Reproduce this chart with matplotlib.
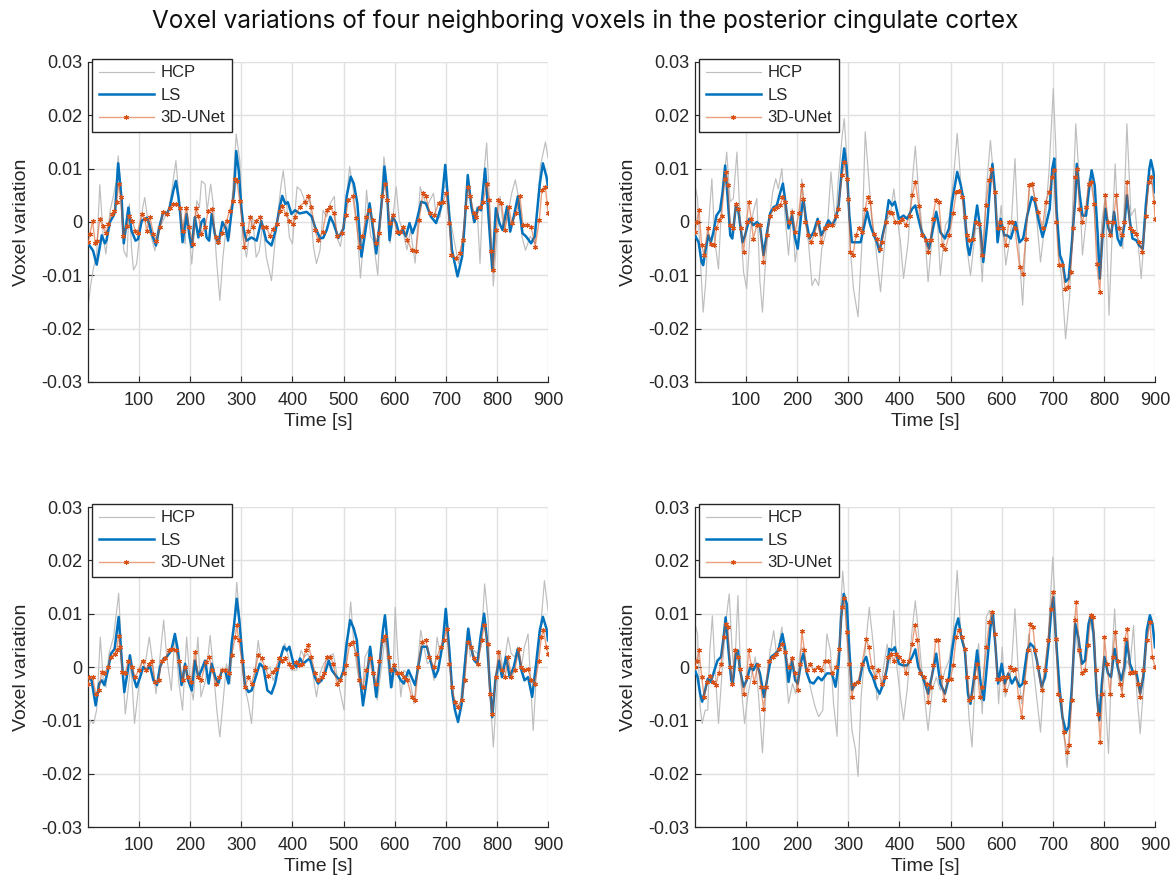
import numpy as np
import matplotlib
matplotlib.use("Agg")
import matplotlib.pyplot as plt
from matplotlib.legend_handler import HandlerTuple

# ---------------- data (time [s], value x 1e-3) ----------------
TITLE = "Voxel variations of four neighboring voxels in the posterior cingulate cortex"
SERIES_NAMES = ["HCP", "LS", "3D-UNet"]
XTICKS = [100, 200, 300, 400, 500, 600, 700, 800, 900]
YTICKS = [-0.03, -0.02, -0.01, 0, 0.01, 0.02, 0.03]
YTICKLABELS = ["-0.03", "-0.02", "-0.01", "0", "0.01", "0.02", "0.03"]
UNIT = 1e-3

# Panel 1 (top-left)
HCP1 = [(0,-16),(5,-12),(10,-9),(17,-6),(23,7),(30,-3),(35,-6),(43,2),(50,5),(56,8),(59,12.4),(64,7),(70,-5.4),(76,-6.6),(81,3.4),(85,-4.7),(89,-9),(95,-7.9),(102,-1.6),(107,2.7),(111,4.6),(118,-0.4),(124,-2.9),(131,-5.4),(137,-1),(144,-0.4),(150,0.9),(157,2.1),(164,5.9),(172,11.5),(178,4.6),(185,-0.4),(190,-4.1),(194,2.1),(203,-7.9),(213,4),(218,2.7),(222,7.7),(229,7.1),(233,2.1),(240,7.1),(245,3.4),(251,-6.6),(258,-14.7),(264,-6.6),(271,-0.4),(277,-2.9),(284,7.1),(290,16.5),(297,11.5),(303,-2.9),(310,-6.6),(315,-2.9),(322,0.9),(329,-6.6),(335,-5.4),(342,-0.4),(349,-6.6),(359,-11),(369,-0.4),(378,7.1),(382,9.6),(387,5.2),(394,-2.9),(400,-4.1),(409,6.6),(416,6),(421,4.8),(427,2.9),(434,4.8),(441,-4.6),(447,-7.8),(454,-5.3),(460,2.2),(467,1),(474,3.5),(482,4.8),(486,-2.7),(494,-4.6),(503,2.2),(512,10.4),(519,6),(526,-0.2),(533,-10.5),(540,-2.7),(545,6),(553,-2.7),(558,-3.4),(567,-10),(574,4.8),(579,12.2),(585,7.2),(591,-4),(603,6.6),(609,0.4),(617,-2.1),(624,-5.2),(631,-1.5),(640,-7.7),(650,6.6),(656,4.8),(663,2.9),(676,5.4),(682,0.4),(689,1),(695,6),(702,7.2),(708,1),(715,-2.7),(725,-7.8),(734,-2.7),(741,6.6),(747,6),(754,-0.2),(761,2.9),(767,-7.8),(774,8.5),(780,14.8),(787,1),(793,-12),(800,-2.7),(806,4.8),(813,-1.5),(823,2.2),(829,5.4),(836,7.9),(842,4.8),(849,-2.7),(856,-5.3),(865,-2.7),(875,-4),(885,10.4),(895,15),(900,12)]
LS1 = [(0,-4),(10,-5.4),(17,-8),(23,-4.7),(27,-2.5),(33,-4),(36,-3.5),(43,0),(50,1.2),(53,2),(59,11),(66,4),(70,-4),(79,2.7),(85,-1.6),(93,-3.5),(98,-3.2),(105,0.2),(109,0.5),(115,0.8),(120,-0.4),(124,-2),(133,-4.4),(141,-0.4),(147,1.8),(154,1.5),(160,2.7),(167,5.9),(172,7.7),(177,4.6),(180,2),(185,-3.8),(193,1.5),(199,-2.9),(203,-4.7),(209,0.9),(216,-2.9),(222,0),(227,0.6),(232,-2.9),(237,-3.5),(242,1.5),(248,-2.2),(255,-4.1),(263,0),(270,-1.3),(274,-3.5),(281,2),(286,5.9),(290,13.3),(295,9.6),(300,2.7),(305,-1.6),(310,-3.5),(320,-2.9),(330,-3.5),(339,0.2),(349,-3.5),(359,-4.4),(367,-1.6),(375,2.7),(380,4.9),(386,3.4),(391,3.7),(398,1.5),(405,2.2),(414,1.6),(428,1.9),(438,1),(444,-0.9),(454,-3),(460,-3),(467,-1.5),(474,1),(480,-0.2),(490,-3),(500,-1.2),(506,4.8),(514,8.5),(520,7.2),(527,3.5),(535,-6.5),(543,-1.5),(551,3.5),(558,-1.5),(564,-5.9),(570,-0.9),(577,6),(580,10.4),(585,6),(590,-3.4),(596,1),(603,-0.2),(609,-2.4),(616,-1.5),(622,-2.7),(629,-0.2),(635,-2.1),(642,-0.2),(652,3.8),(661,3.5),(671,1),(681,-0.2),(691,2.9),(699,10.7),(706,2.2),(712,-5.2),(723,-10.2),(732,-6.5),(737,-0.2),(743,8.8),(750,2.9),(756,0),(763,2.6),(769,2.2),(777,10),(784,0.4),(791,-9),(798,2.6),(805,-0.2),(811,-1.5),(820,2.9),(826,-1.8),(833,1),(841,4.8),(850,-2.1),(857,-2.7),(867,-4),(874,-2.7),(884,7.2),(890,11),(897,8.5),(900,6.6)]
UN1 = [(0,-3.8),(4,-2.2),(9,0.2),(14,-4),(18,-3.5),(23,0.6),(29,-0.7),(35,-2),(40,-0.4),(46,1.5),(51,2.1),(56,3.7),(60,7.1),(64,4.6),(69,-2.6),(76,-0.7),(81,1.2),(87,0.2),(92,-1.6),(97,-2),(105,1.5),(111,0.6),(115,-1.6),(121,0.9),(128,-2.2),(134,-3.5),(141,-1),(147,1.8),(154,1.5),(160,2.7),(167,3.4),(173,3.3),(180,2.7),(185,-1.6),(192,2.7),(198,-1),(205,-4.1),(211,2.7),(216,1.2),(222,-2.2),(229,-1),(235,2.1),(242,2.4),(250,-2.9),(255,-3.8),(263,-2),(271,0.2),(277,2.1),(283,4),(287,8.1),(291,7.7),(297,4),(302,-0.4),(306,-4.7),(313,-1.6),(317,0.9),(322,-1),(329,0.2),(336,0.9),(342,-1),(349,-1),(356,-2.6),(362,-1.3),(369,-0.4),(375,2.1),(380,3),(387,1.5),(394,0.2),(401,-0.4),(405,1),(414,2.9),(424,3.8),(431,4.8),(437,2.9),(444,-1.5),(450,-3.4),(459,-1.8),(467,2.2),(473,2.9),(481,1.6),(488,-2.7),(496,-2.1),(505,1.3),(509,4.1),(518,4.8),(524,0.7),(531,-4.6),(537,-2.7),(544,1),(550,2.2),(557,0.4),(563,-4),(570,-2.1),(576,4.8),(581,7.2),(585,4.1),(591,-0.2),(597,1.3),(604,-1.8),(610,-1.8),(617,-0.9),(625,-3.4),(633,-5.2),(642,-5.5),(648,0.4),(655,5.4),(661,4.8),(669,1.6),(677,1.3),(686,3.5),(694,3.8),(701,5.4),(707,-0.2),(711,-6.2),(720,-6.8),(727,-5.9),(733,-3.4),(739,2.9),(744,6.6),(748,4.8),(755,1.6),(760,1),(767,2.9),(773,3.8),(780,7.2),(785,4.1),(789,-5.5),(793,-9),(798,-1.5),(803,4.1),(809,3.5),(816,-1.5),(823,2.9),(829,-0.2),(838,1.6),(845,4.8),(851,-0.6),(859,-0.6),(867,-0.9),(875,-4.6),(883,0.4),(888,6),(895,6.6),(898,3.5),(900,1.6)]

# Panel 2 (top-right)
HCP2 = [(0,6.9),(5,4.4),(10,-6.2),(16,-16.9),(21,-11.2),(26,-1.2),(33,8.1),(39,-3.8),(46,-8.8),(52,3.8),(62,13.1),(69,3.8),(75,4.4),(82,13.1),(88,1.2),(95,-9.4),(101,-12.5),(108,-1.9),(114,1.9),(121,4.4),(127,-11.2),(132,-16.9),(137,-8.8),(144,-0.6),(152,5.6),(158,8.1),(163,6.2),(170,10),(176,1.2),(183,-6.2),(190,2.5),(196,-7.5),(203,-2.5),(209,8.1),(216,0),(222,-3.8),(229,-11.9),(235,-10.6),(242,-11.9),(248,-5),(255,-2.5),(260,0.6),(266,9.4),(275,-0.6),(280,7.5),(288,16.2),(292,19.4),(297,11.9),(304,-5),(310,-12.5),(319,-17.8),(327,-3.1),(333,16.9),(340,8.1),(346,0),(352,-3.1),(358,-8.8),(363,-13.1),(369,-6.2),(376,0.6),(382,1.2),(389,6.2),(395,1.2),(402,-3.8),(408,-10.6),(417,-3.8),(425,7.5),(431,14.2),(438,5),(444,-1),(451,-4),(456,-11.2),(463,-3.8),(467,-1.2),(474,1.2),(480,-10),(490,-0.6),(497,0.6),(505,7.5),(513,16.6),(520,7.5),(529,-2.5),(539,-10),(549,-1.2),(556,-1.2),(562,-11.2),(570,6.2),(578,15.3),(585,7.5),(592,-3.8),(599,3.1),(608,-8.1),(618,-1.9),(626,11.9),(633,-3.8),(641,-15.6),(648,-1.9),(655,6.9),(661,7.5),(668,1.2),(676,-7.5),(685,0),(693,10),(701,25),(706,13.8),(711,-5),(718,-11.2),(725,-21.9),(733,-13.8),(739,3.1),(745,18.4),(752,7.5),(758,-6.2),(765,0),(771,8.1),(778,7.5),(784,-2.5),(791,-8.8),(796,0),(803,5),(810,-17.5),(817,0),(822,10.9),(828,-1.2),(837,-5),(845,18.4),(853,1.2),(861,2.5),(868,-5),(873,-10.6),(881,0),(889,9.4),(897,6.2),(900,3.8)]
LS2 = [(0,-2.5),(7,-3.8),(13,-7.5),(16,-8.1),(21,-5),(26,-2.5),(31,-3.8),(36,-1.9),(42,1.2),(49,2.2),(54,5.6),(59,10.6),(64,4.4),(69,-2.5),(73,-3.1),(80,3.1),(85,1.9),(93,-3.8),(98,-2.5),(106,0.6),(114,-0.6),(121,0),(127,-0.6),(134,-6.2),(141,-1.9),(147,1.6),(154,2.8),(160,3.1),(167,5.6),(172,7.2),(176,4.4),(183,-1.2),(190,1.2),(196,-3.1),(201,-5),(209,2.5),(212,4.4),(217,0.6),(224,-3.1),(232,-1.9),(240,0.6),(247,-2.5),(254,-1.2),(261,0.3),(268,-0.6),(275,0.6),(281,3.1),(288,10.6),(292,13.8),(297,10),(302,1.2),(307,-3.8),(315,-3.8),(324,-3.8),(330,-1.2),(337,1.9),(343,-0.6),(350,-2.5),(356,-3.8),(361,-5.6),(367,-2.5),(373,0),(379,4.1),(386,3.1),(391,3.8),(399,0.6),(408,1.2),(415,0.6),(425,2.5),(431,3.1),(438,0.3),(444,-2),(451,-3),(458,-5),(464,-1.9),(472,1.9),(480,-1.9),(489,-3.1),(497,-1.2),(503,3.8),(513,9.4),(520,6.9),(526,3.8),(533,-4.4),(537,-6.2),(544,-2.5),(552,3.1),(559,-1.9),(564,-7.5),(572,0),(578,7.5),(582,10.9),(587,5.6),(592,-3.8),(598,0.6),(605,-2.5),(611,-2.5),(618,-3.1),(627,0),(635,-3.8),(642,-3.1),(650,1.2),(659,4.7),(665,3.8),(673,0),(680,-2.8),(688,0),(694,2.5),(699,10),(703,11.9),(707,2.5),(714,-6.2),(719,-7.5),(725,-11.2),(731,-10.6),(737,-4.4),(744,4.4),(747,10.9),(752,5.6),(758,1.2),(765,1.2),(771,6.2),(776,9.7),(782,6.9),(788,-2.5),(792,-10.6),(797,-3.1),(803,2.5),(809,-1.2),(814,-2.5),(820,1.9),(827,-3.1),(833,-4.4),(840,-0.6),(845,5),(851,0),(856,-3.1),(863,-3.4),(869,-4.4),(876,-5),(882,3.1),(889,10),(892,11.6),(897,9.4),(900,5.6)]
UN2 = [(0,-1.9),(3,0),(8,2.2),(13,-4.4),(18,-6.2),(25,-1.2),(31,-4.1),(38,-4.4),(42,-1.2),(47,0.3),(52,1.2),(58,8.1),(61,9.4),(64,6.9),(69,-0.6),(75,-1.2),(80,3.4),(85,2.5),(90,-1.2),(95,-5.6),(101,0),(105,3.8),(110,0.6),(114,-3.1),(121,-0.6),(127,-0.6),(134,-7.5),(141,-2.5),(147,1.2),(154,2.5),(160,2.8),(167,3.1),(171,4.7),(176,3.8),(183,0),(190,1.9),(196,-1.9),(203,1.6),(209,6.9),(212,4.4),(216,0),(221,-2.5),(227,-3.8),(234,-2.2),(240,0),(247,-3.8),(254,-1.2),(260,-0.6),(268,-0.6),(275,1.2),(280,2.5),(288,8.8),(292,11.2),(297,8.1),(300,4.4),(304,-5.6),(309,-6.2),(315,-2.5),(320,-1.2),(327,-1.9),(333,2.5),(338,4.7),(343,3.8),(350,-2.2),(356,-3.1),(361,-5),(366,-3.8),(373,0),(379,1.9),(386,1.6),(392,0),(399,0),(405,0.6),(412,-0.6),(420,1.2),(425,5),(431,7.5),(438,3),(444,-2.5),(451,-3.4),(456,-5.6),(461,-3.4),(465,0.6),(471,4.1),(477,3.8),(484,-4.4),(490,-5),(497,-2.5),(505,1.6),(511,5.6),(516,5.9),(523,4.7),(528,0.9),(533,-2.5),(537,-3.4),(544,-3.1),(549,0),(556,-0.3),(562,-6.2),(569,3.1),(575,7.8),(580,10),(586,5.6),(592,-1.2),(597,0),(603,-1.2),(608,-4.4),(614,0),(620,0),(626,-1.2),(635,-8.4),(641,-9.7),(647,-3.1),(654,6.9),(659,7.2),(665,4.4),(672,1.9),(680,-1.2),(686,3.8),(693,5.6),(698,8.4),(702,9.7),(707,0),(712,-8.1),(719,-8.1),(724,-12.5),(729,-12.2),(735,-9.4),(740,-1.2),(744,8.4),(748,10),(752,2.5),(758,0),(765,2.8),(770,7.2),(775,7.5),(781,3.4),(786,-7.8),(792,-13.1),(797,-2.5),(803,5),(808,0),(812,-2.5),(818,0),(824,5),(830,-1.2),(835,-2.5),(840,0),(845,7.5),(851,-1.2),(856,-1.6),(863,-2.2),(869,-3.8),(875,-5.6),(882,1.2),(888,7.5),(893,8.4),(898,3.8),(900,0.6)]

# Panel 3 (bottom-left)
HCP3 = [(0,-13.8),(4,-10),(11,-10.6),(17,-8),(24,5.6),(30,-2.5),(35,-3.8),(41,2.5),(50,5.6),(60,13.8),(66,2.5),(73,-8.8),(79,-3.8),(84,0.6),(91,-10.6),(99,-3.8),(105,1.2),(112,0.6),(120,5.6),(125,1.9),(133,-5),(139,0),(148,8.8),(154,1.9),(163,-4.4),(170,6.2),(178,-3.1),(185,-8.1),(193,5.6),(200,-3.1),(206,-6.2),(215,5.6),(221,-5.6),(230,-2.5),(239,5.9),(245,0),(252,-8.1),(258,-13.1),(265,-5.6),(271,0.6),(278,-3.1),(284,5.6),(291,15.9),(296,10),(302,-0.6),(307,-3.8),(314,-6.9),(320,-10.6),(327,-0.6),(333,5),(340,0),(350,-0.6),(356,0),(362,-2.5),(372,-0.6),(379,2.5),(385,4.4),(392,1.9),(398,-0.6),(408,-0.6),(417,3.1),(423,1.9),(430,2.5),(437,0.6),(447,-5.6),(454,-1.2),(461,0.6),(471,1.9),(480,2.5),(490,-3.1),(501,-8.1),(508,5.6),(514,12.2),(520,4.4),(527,-0.6),(536,-5.6),(542,1.9),(552,3.8),(560,-2.5),(566,-6.2),(575,0.6),(581,5.6),(591,-3.1),(596,-3.8),(601,11.2),(606,2.5),(612,-5.6),(618,-0.6),(625,-1.2),(630,-2.5),(638,-6.9),(644,-0.6),(651,6.9),(657,3.8),(664,0.6),(670,1.2),(677,-2.5),(683,5.6),(690,1.9),(696,5.6),(702,10),(708,0.6),(715,-5.6),(721,-7.5),(728,-6.9),(735,-0.6),(742,6.9),(748,1.9),(755,3.1),(763,2.5),(769,3.8),(776,15.6),(783,8.8),(787,-5.6),(793,-15),(799,-5.6),(806,3.1),(812,-0.6),(822,5.6),(828,2.5),(835,1.9),(841,3.8),(848,0),(854,3.8),(861,6.2),(871,-11.9),(877,-1.9),(884,5.6),(893,16.2),(900,10.6)]
LS3 = [(0,-1.9),(7,-2.5),(15,-7.2),(22,-3.1),(27,-2.5),(32,-3.4),(39,-0.6),(45,2.5),(52,3.4),(60,9.4),(65,2.5),(71,-4.7),(78,-0.6),(82,2.2),(89,-1.9),(95,-3.8),(102,-1.9),(108,0),(115,-0.6),(121,0.3),(128,-2.5),(135,-3.4),(141,0),(148,1.6),(154,1.9),(163,3.1),(170,6.2),(176,3.1),(183,-3.4),(190,0.6),(196,-2.5),(203,-4.4),(209,1.2),(216,-1.9),(222,-0.6),(229,1.2),(236,-3.1),(242,0.6),(249,-1.9),(255,-3.1),(262,-0.6),(268,-0.6),(275,-3.1),(281,4.4),(286,8.1),(291,12.8),(296,8.8),(301,3.1),(307,-3.4),(314,-4.7),(320,-4.4),(328,-1.9),(336,0.6),(343,0),(351,-4.4),(359,-5),(366,-3.1),(372,-0.3),(379,2.5),(383,3.8),(389,3.1),(394,3.8),(402,0.6),(408,0),(415,1.6),(421,0.6),(428,1.2),(434,1.6),(444,-1.9),(450,-3.1),(457,-2.5),(464,-1),(471,1.2),(477,-0.6),(487,-1.9),(493,-2.5),(500,-0.6),(506,4.4),(513,8.8),(520,7.2),(526,5),(531,-0.6),(538,-7.2),(546,-1.9),(552,3.8),(557,0),(564,-5.6),(570,0),(577,6.9),(581,9.7),(588,2.5),(593,-3.8),(599,0),(605,-1.2),(612,-2.5),(618,-3.1),(627,-0.6),(633,-1.9),(640,-3.4),(646,0),(653,3.8),(663,3.8),(670,1.2),(679,-1.9),(685,-0.6),(694,4.4),(700,10.9),(707,3.1),(713,-5),(718,-8.1),(724,-10.3),(731,-6.9),(737,0),(744,7.2),(749,3.8),(756,1.2),(762,0.6),(768,5.6),(775,10),(780,5.6),(786,-3.1),(791,-9.4),(797,-2.5),(804,1.2),(810,-1.9),(818,1.9),(825,-1.9),(833,0),(841,3.4),(848,-0.6),(854,-2.5),(861,-1.9),(869,-5.6),(876,0),(884,6.9),(890,9.4),(897,7.2),(900,5)]
UN3 = [(0,-3.1),(2,-1.9),(9,-1.9),(15,-5),(21,-4.4),(27,-0.9),(32,-1.2),(39,0),(45,1.9),(52,2.5),(56,3.1),(60,5.9),(63,3.8),(67,-0.9),(73,-1.2),(79,1.2),(86,0),(92,-1.9),(99,-0.6),(107,1.2),(113,-0.6),(120,0.6),(125,1.2),(131,-2.8),(138,-2.5),(144,1.2),(151,1.6),(159,3.1),(165,3.4),(172,3.1),(178,1.2),(185,-2.5),(190,0),(196,-1.9),(202,-2.8),(209,2.8),(216,-1.9),(222,-2.5),(230,0.9),(237,1.9),(243,-0.6),(250,-3.1),(256,-1.9),(263,-0.6),(268,-0.6),(275,-1.2),(281,2.2),(288,5.6),(291,7.8),(295,5),(301,1.2),(307,-3.8),(314,-1.9),(320,-3.1),(327,-0.6),(333,2.2),(340,1.6),(346,0),(353,-1.6),(361,-0.9),(367,-0.3),(374,1.6),(380,1.2),(385,1.6),(393,0.6),(400,0),(406,0.9),(413,0.3),(419,0.6),(426,3.1),(431,4.1),(437,1.9),(444,-1.2),(450,-2.5),(458,-1.9),(461,-1.2),(467,1.9),(474,1.9),(480,0.6),(487,-3.1),(493,-2.5),(500,-1.2),(505,0.3),(512,4.4),(518,4.7),(525,2.5),(531,-2.5),(538,-3.8),(544,-0.6),(551,1.6),(557,-1.2),(564,-3.1),(570,1.2),(577,5),(582,5.9),(588,1.9),(593,-0.6),(599,0.3),(605,-1.2),(612,-1.2),(618,-1.9),(625,-2.5),(633,-5.6),(640,-6.2),(646,0),(653,4.7),(661,5),(668,1.9),(676,0),(683,1.9),(690,3.8),(696,5),(702,7.2),(707,0.6),(712,-3.8),(718,-6.6),(724,-7.5),(731,-6.2),(737,-2.5),(743,4.7),(749,3.8),(756,1.6),(763,0.6),(770,5),(775,7.8),(782,4.4),(786,-5),(791,-8.8),(798,-1.9),(803,2.8),(810,-0.6),(816,-1.9),(822,1.9),(828,-1.9),(835,-0.6),(843,3.4),(848,0),(854,-0.6),(861,-0.3),(867,-2.5),(874,-3.1),(882,1.2),(887,5.6),(891,6.9),(897,3.8),(900,2.5)]

# Panel 4 (bottom-right)
HCP4 = [(0,8.1),(5,6.2),(10,-7.5),(14,-10.6),(20,-8.1),(25,-8.1),(29,3.1),(34,9.6),(39,0),(46,-10.6),(54,0.6),(62,9.9),(67,13.7),(72,4.3),(77,-1.9),(84,13.4),(90,-3.1),(97,-10.6),(103,-5.6),(110,-1.9),(118,1.9),(124,-5),(132,-16.1),(139,-4.3),(147,3.1),(154,6.8),(160,1.9),(170,7.5),(176,1.2),(183,-6.8),(191,-3.1),(197,-5),(206,3.1),(212,3.7),(219,-0.6),(227,-4.3),(235,-7.5),(242,-9.3),(250,-8.1),(258,6.2),(265,3.1),(271,-6.8),(278,-13),(284,9.3),(289,18),(294,11.8),(301,-1.9),(307,-11.8),(314,-15.5),(319,-20.5),(325,-5.6),(333,3.1),(341,11.2),(350,3.1),(356,-6.2),(363,-4.3),(369,0),(376,4.3),(382,0.6),(389,10.6),(395,0),(402,-5.6),(408,-9.9),(415,-4.3),(424,6.2),(431,12.4),(438,5.6),(445,-1.9),(456,-11.9),(464,-4.4),(472,-1.9),(480,-4.4),(489,-0.6),(497,1.2),(505,6.2),(513,18.1),(520,6.2),(529,3.1),(536,-9.4),(542,-15),(549,-0.6),(555,4.4),(562,-8.8),(570,9.4),(576,10.6),(583,7.5),(589,3.1),(594,-6.9),(601,3.7),(607,-5.6),(615,-3.1),(620,1.2),(626,10.9),(632,0),(639,-6.9),(645,-3.1),(653,6.2),(659,2.5),(667,-4.4),(676,-12.2),(682,-3.1),(691,5.6),(700,20.6),(706,9.4),(713,-6.2),(719,-10),(728,-18.8),(734,-9.4),(743,9.4),(749,3.1),(757,1.2),(765,1.2),(771,9.4),(778,6.2),(786,-5),(795,-5.6),(802,-4.4),(809,-16.2),(815,0),(821,10.9),(828,-1.9),(835,-4.4),(845,1.2),(851,0),(858,7.8),(864,-4.4),(871,-12.5),(877,-4.4),(884,4.4),(890,8.8),(897,7.5),(900,4.4)]
LS4 = [(0,-0.6),(5,-1.9),(10,-5),(14,-6.5),(20,-4.3),(25,-2.2),(31,-2.8),(38,-0.6),(44,1.2),(51,1.9),(56,5.6),(60,9.3),(65,3.7),(71,-2.5),(74,-3.1),(80,2.5),(84,3.1),(88,-0.6),(95,-3.7),(101,-2.5),(108,0),(114,-0.6),(121,0.6),(127,-1.2),(135,-5.6),(142,-1.9),(149,1.9),(157,2.5),(163,3.1),(171,6.2),(176,3.7),(183,-2.8),(190,1.2),(196,-2.5),(201,-3.1),(208,1.2),(212,2.5),(219,-1.2),(225,-2.8),(232,-3.1),(241,-1.9),(248,-2.5),(258,-1.2),(268,-1.2),(275,-3.7),(281,0.6),(286,9.3),(291,13.7),(297,11.8),(302,3.1),(307,-4.3),(315,-3.1),(322,-2.5),(328,0.6),(335,1.9),(341,-0.6),(348,-1.9),(354,-3.7),(361,-5),(369,-3.1),(376,0),(380,3.4),(386,3.1),(391,3.7),(399,0.6),(407,0.3),(415,0.3),(425,1.9),(431,3.3),(437,0),(443,-1.2),(450,-3.1),(456,-5),(463,-1.9),(472,2.5),(480,-3.1),(489,-5),(497,-1.9),(503,3.1),(510,7.5),(515,9.1),(521,5.6),(528,3.1),(534,-5),(539,-6.9),(546,-1.9),(552,3.1),(559,-3.1),(565,-6.2),(572,1.2),(578,7.5),(583,10),(588,3.7),(593,-3.1),(600,0.6),(606,-3.1),(613,-1.2),(620,-3.1),(627,-1.9),(635,-3.7),(641,-3.1),(650,3.1),(656,4.4),(663,3.7),(669,1.2),(678,-3.7),(685,-1.9),(692,4.4),(697,10.6),(701,13.1),(706,5.6),(713,-3.7),(719,-9.4),(726,-12.2),(731,-11.2),(737,-4.4),(744,8.1),(750,5.6),(757,0.6),(763,1.2),(770,8.1),(775,9.7),(780,6.2),(786,-5),(791,-10),(796,-3.1),(801,1.9),(808,-1.2),(814,-1.9),(821,3.4),(827,0),(834,-2.5),(840,0),(845,5),(851,0.6),(858,-1.2),(864,-1.2),(871,-5),(877,-1.9),(884,6.9),(890,9.7),(895,8.1),(900,3.7)]
UN4 = [(0,0),(3,1.2),(8,3.1),(13,-1.9),(18,-5.6),(24,-2.8),(29,-1.6),(36,-2.8),(41,-3.4),(46,-1.2),(51,0.6),(56,5.6),(60,8.1),(64,7.5),(69,0),(73,-3.1),(78,3.1),(84,1.9),(88,-0.3),(95,-5),(101,-1.9),(105,3.1),(110,0.3),(116,-2.8),(123,0.3),(129,-3.7),(134,-7.8),(139,-3.7),(144,1.2),(152,1.9),(158,2.5),(165,3.4),(170,4.3),(176,2.8),(183,0),(190,1.6),(196,-1.2),(201,-4.3),(206,0.6),(209,6.8),(214,3.1),(219,-0.6),(225,0.6),(232,-0.6),(241,0),(247,-0.6),(255,1.2),(261,1.2),(268,-1.2),(276,0),(282,3.4),(288,11.2),(292,13),(297,6.5),(302,0.6),(307,-5.6),(312,-3.1),(319,-2.8),(327,0.6),(335,5.3),(340,3.7),(346,0),(353,-1.9),(359,-0.6),(365,-3.1),(371,-1.9),(378,1.9),(383,2.5),(389,1.2),(394,2.5),(400,1.9),(407,1.2),(412,-1.2),(418,1.2),(425,4.3),(430,7.8),(435,5),(441,-1.1),(448,-1.8),(453,-3.1),(456,-6.6),(461,-3.7),(466,0.3),(471,5),(476,5),(482,-1.9),(487,-6.2),(494,-2.5),(500,-2.2),(505,0.3),(511,5.6),(516,6.9),(523,5.6),(528,3.4),(533,-1.9),(537,-6.2),(542,-5.6),(547,-1.9),(552,0.6),(557,-5.6),(562,-3.7),(570,3.7),(576,8.4),(581,10.3),(587,6.2),(591,-2.2),(596,-2.2),(602,-1.9),(606,-4.4),(611,-1.9),(617,0),(622,-0.6),(627,-0.3),(633,-5.6),(639,-9.4),(645,-2.8),(652,3.1),(656,8.1),(661,7.5),(666,3.1),(671,0),(678,-4.4),(684,-0.6),(691,5),(696,10.9),(700,14.1),(706,5.3),(711,-5),(717,-6.2),(721,-12.2),(728,-15.9),(732,-14.7),(737,-6.2),(743,8.8),(746,12.2),(752,3.1),(757,-1.2),(763,-0.6),(769,4.1),(774,9.7),(779,9.4),(784,-0.6),(789,-8.8),(793,-14.1),(797,-5),(801,5.6),(806,0.6),(812,-5),(817,1.9),(822,6.6),(827,1.2),(832,-3.1),(836,-5.3),(841,5.3),(846,7.2),(851,-1.2),(856,-0.9),(861,-0.9),(866,-3.1),(871,-5.6),(877,-0.6),(884,5),(890,8.4),(895,1.9),(900,0)]

PANELS = [(HCP1, LS1, UN1), (HCP2, LS2, UN2), (HCP3, LS3, UN3), (HCP4, LS4, UN4)]

# ---------------- style ----------------
C_HCP = "#BEBEBE"
C_LS = "#0072BD"
C_UN = "#D95319"
AX_COLOR = "#262626"
TICK_FONT = "Liberation Sans"
W, H = 1171, 885

# axes rectangles in pixels: (left, top, right, bottom)
RECTS = [(88, 62, 548, 382), (695, 62, 1155, 382),
         (88, 507, 548, 827), (695, 507, 1155, 827)]


def unpack(pairs):
    t, v = zip(*pairs)
    return np.array(t, dtype=float), np.array(v, dtype=float) * UNIT


plt.rcParams["font.family"] = [TICK_FONT, "DejaVu Sans"]
fig = plt.figure(figsize=(W / 100, H / 100), dpi=100)

fig.text(0.4996, 1 - 21 / H, TITLE, ha="center", va="center",
         fontsize=17.5, family=["Inter", "DejaVu Sans"], color="#111111")

for (hcp, ls, un), (l, t, r, b) in zip(PANELS, RECTS):
    ax = fig.add_axes([l / W, 1 - b / H, (r - l) / W, (b - t) / H])
    th, vh = unpack(hcp)
    tl, vl = unpack(ls)
    tu, vu = unpack(un)

    h1, = ax.plot(th, vh, color=C_HCP, lw=0.85, zorder=2)
    h2, = ax.plot(tl, vl, color=C_LS, lw=1.8, zorder=3)
    h3, = ax.plot(tu, vu, color=C_UN, lw=1.0, alpha=0.55, zorder=4)
    h3m, = ax.plot(tu, vu, ls="none", marker=(6, 2, 0), ms=3.6, mew=0.8,
                   color=C_UN, zorder=5)

    ax.set_xlim(0, 900)
    ax.set_ylim(-0.03, 0.03)
    ax.set_xticks(XTICKS)
    ax.set_yticks(YTICKS)
    ax.set_yticklabels(YTICKLABELS)
    ax.grid(True, color="#E0E0E0", lw=1.0, zorder=0)
    ax.set_axisbelow(True)
    for s in ("top", "right"):
        ax.spines[s].set_visible(False)
    for s in ("left", "bottom"):
        ax.spines[s].set_color(AX_COLOR)
        ax.spines[s].set_linewidth(0.9)
    ax.tick_params(direction="in", length=4, width=0.8, color=AX_COLOR,
                   labelsize=13, labelcolor=AX_COLOR)
    ax.tick_params(axis="x", pad=7)
    ax.tick_params(axis="y", pad=4)
    ax.set_xlabel("Time [s]", fontsize=14, color=AX_COLOR, labelpad=3)
    ax.set_ylabel("Voxel variation", fontsize=14, color=AX_COLOR, labelpad=8)

    leg = ax.legend([h1, h2, (h3, h3m)], SERIES_NAMES,
                    handler_map={tuple: HandlerTuple(ndivide=1, pad=0)},
                    loc="upper left", bbox_to_anchor=(0.009, 1.01),
                    borderaxespad=0, fontsize=12, frameon=True, fancybox=False,
                    edgecolor=AX_COLOR, framealpha=1, handlelength=3.3,
                    handletextpad=0.4, labelspacing=0.45, borderpad=0.4,
                    numpoints=1)
    leg.get_frame().set_linewidth(1.0)
    for txt in leg.get_texts():
        txt.set_color(AX_COLOR)

fig.savefig("out.png", dpi=100)
